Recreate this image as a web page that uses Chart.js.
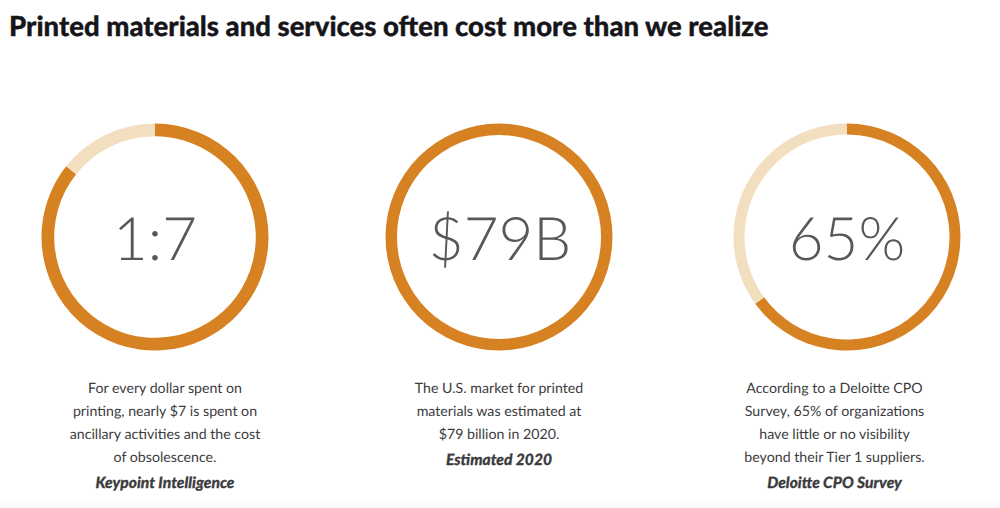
<!DOCTYPE html>
<html><head><meta charset="utf-8">
<script src="https://cdn.jsdelivr.net/npm/chart.js@4"></script>
<style>
html,body{margin:0;padding:0;background:#fff;width:1000px;height:508px;overflow:hidden;font-family:Lato,sans-serif;text-rendering:geometricPrecision}
h1{position:absolute;left:9px;top:8px;margin:0;font:900 27.5px/36px Lato,sans-serif;color:#16161a;white-space:nowrap;-webkit-text-stroke:.35px #16161a}
.c{position:absolute;top:118px;width:238px;height:238px}
.c canvas{position:absolute;left:0;top:0}
.big{position:absolute;width:300px;text-align:center;top:199.5px;font:300 60px/74px Lato,sans-serif;color:#58585c}
.t{position:absolute;width:300px;text-align:center;top:377px;font:400 14.2px/23px Lato,sans-serif;color:#3c3c40}
.t b{display:block;font:italic 900 15.6px/23px Lato,sans-serif;margin-top:3px;-webkit-text-stroke:.25px #3c3c40}
#band{position:absolute;left:0;right:0;top:503px;height:5px;background:#fafafa}
</style></head><body>
<h1 id="title"></h1>
<div id="root"></div>
<div id="band"></div>
<script>
const titleText = "Printed materials and services often cost more than we realize";
const categories = ["Share", "Remainder"];
const bigLabels = ["1:7", "$79B", "65%"];
const firstValues = [85.7, 14.3];
const secondValues = [100, 0];
const thirdValues = [65, 35];
const seriesValues = [firstValues, secondValues, thirdValues];
const captions = [
 ["For every dollar spent on","printing, nearly $7 is spent on","ancillary activities and the cost","of obsolescence."],
 ["The U.S. market for printed","materials was estimated at","$79 billion in 2020."],
 ["According to a Deloitte CPO","Survey, 65% of organizations","have little or no visibility","beyond their Tier 1 suppliers."]
];
const sources = ["Keypoint Intelligence","Estimated 2020","Deloitte CPO Survey"];
const centers = [155, 498.5, 847];
const bigCenters = [155, 500, 847];
const captionCenters = [165, 499, 834.5];
const cutouts = ["88.8%","89.9%","90.3%"];
const colors = ["#d68223","#f2dfbf"];

document.getElementById("title").textContent = titleText;
const root = document.getElementById("root");
seriesValues.forEach((vals,i)=>{
  const cx = centers[i];
  const box = document.createElement("div");
  box.className="c"; box.style.left=(cx-119)+"px";
  const cv = document.createElement("canvas");
  box.appendChild(cv); root.appendChild(box);
  new Chart(cv,{type:"doughnut",
    data:{labels:categories,datasets:[{data:vals,backgroundColor:colors,borderWidth:0}]},
    options:{responsive:true,maintainAspectRatio:false,animation:false,cutout:cutouts[i],
      layout:{padding:5.5},
      plugins:{legend:{display:false},tooltip:{enabled:false}}}});
  const big=document.createElement("div");
  big.className="big"; big.style.left=(bigCenters[i]-150)+"px"; big.textContent=bigLabels[i];
  root.appendChild(big);
  const t=document.createElement("div");
  t.className="t"; t.style.left=(captionCenters[i]-150)+"px";
  captions[i].forEach(l=>{const d=document.createElement("div");d.textContent=l;t.appendChild(d);});
  const b=document.createElement("b"); b.textContent=sources[i]; t.appendChild(b);
  root.appendChild(t);
});
</script>
</body></html>
